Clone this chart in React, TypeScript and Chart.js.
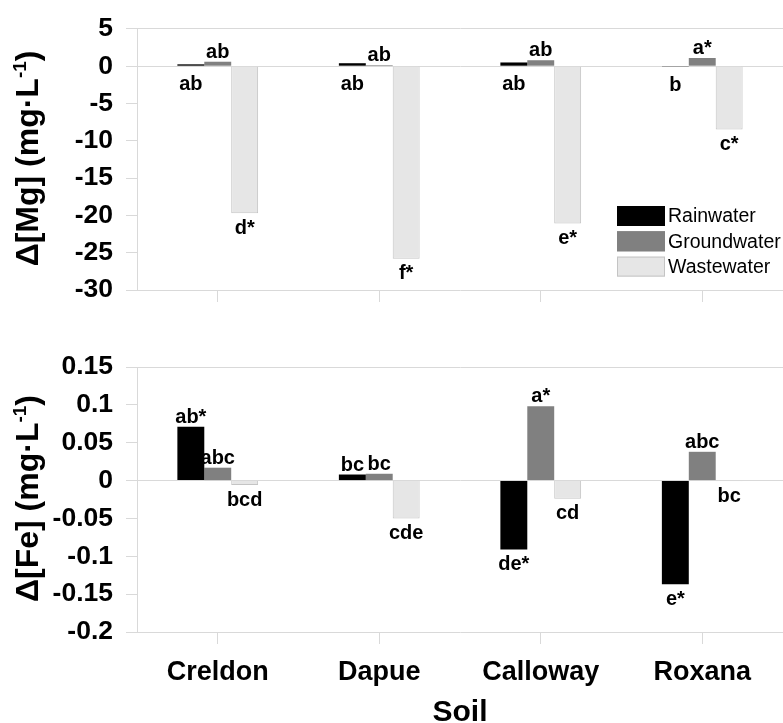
import React, { useEffect, useRef } from 'react';
import { Chart, registerables } from 'chart.js';

Chart.register(...registerables);

const FONT = '"Liberation Sans", Arial, Helvetica, sans-serif';
const GRID = '#d9d9d9';

const soils = ['Creldon', 'Dapue', 'Calloway', 'Roxana'];
const seriesNames = ['Rainwater', 'Groundwater', 'Wastewater'];
const seriesColors = ['#000000', '#808080', '#e6e6e6'];
const seriesBorders = ['#000000', '#808080', '#c4c4c4'];

// Δ[Mg] (mg·L-1)
const mgRain = [0.25, 0.4, 0.5, -0.1];
const mgGround = [0.6, 0.15, 0.8, 1.1];
const mgWaste = [-19.7, -25.8, -21.1, -8.5];
const mgRainLetters = ['ab', 'ab', 'ab', 'b'];
const mgGroundLetters = ['ab', 'ab', 'ab', 'a*'];
const mgWasteLetters = ['d*', 'f*', 'e*', 'c*'];
const mgTicks = [-30, -25, -20, -15, -10, -5, 0, 5];
const mgTickLabels = ['-30', '-25', '-20', '-15', '-10', '-5', '0', '5'];

// Δ[Fe] (mg·L-1)
const feRain = [0.071, 0.008, -0.091, -0.137];
const feGround = [0.017, 0.009, 0.098, 0.038];
const feWaste = [-0.006, -0.05, -0.024, -0.001];
const feRainLetters = ['ab*', 'bc', 'de*', 'e*'];
const feGroundLetters = ['abc', 'bc', 'a*', 'abc'];
const feWasteLetters = ['bcd', 'cde', 'cd', 'bc'];
const feTicks = [-0.2, -0.15, -0.1, -0.05, 0, 0.05, 0.1, 0.15];
const feTickLabels = ['-0.2', '-0.15', '-0.1', '-0.05', '0', '0.05', '0.1', '0.15'];

const letterPlugin = {
  id: 'letters',
  afterDatasetsDraw(chart: any) {
    const ctx = chart.ctx;
    ctx.save();
    ctx.font = `bold 20px ${FONT}`;
    ctx.fillStyle = '#000';
    ctx.textAlign = 'center';
    ctx.textBaseline = 'alphabetic';
    chart.data.datasets.forEach((ds: any, di: number) => {
      const meta = chart.getDatasetMeta(di);
      meta.data.forEach((el: any, i: number) => {
        const text = ds.letters[i];
        const v = ds.data[i];
        const top = Math.min(el.y, el.base);
        const bottom = Math.max(el.y, el.base);
        const below = ds.lettersBelow || v < 0;
        const y = below ? bottom + (ds.lettersGap ?? 6) + 14.5 : top - 4;
        ctx.fillText(text, el.x, y);
      });
    });
    ctx.restore();
  },
};

const yTitlePlugin = {
  id: 'yTitle',
  afterDraw(chart: any, _args: any, opts: any) {
    const ctx = chart.ctx;
    const area = chart.chartArea;
    const size = 32;
    const supSize = 19;
    ctx.save();
    ctx.translate(opts.x, (area.top + area.bottom) / 2 + (opts.dy || 0));
    ctx.rotate(-Math.PI / 2);
    ctx.fillStyle = '#000';
    ctx.textBaseline = 'alphabetic';
    ctx.textAlign = 'left';
    ctx.font = `bold ${size}px ${FONT}`;
    const w1 = ctx.measureText(opts.main).width;
    const w3 = ctx.measureText(opts.tail).width;
    ctx.font = `bold ${supSize}px ${FONT}`;
    const w2 = ctx.measureText(opts.sup).width;
    let x = -(w1 + w2 + w3) / 2;
    ctx.font = `bold ${size}px ${FONT}`;
    ctx.fillText(opts.main, x, 0);
    x += w1;
    ctx.font = `bold ${supSize}px ${FONT}`;
    ctx.fillText(opts.sup, x, -12);
    x += w2;
    ctx.font = `bold ${size}px ${FONT}`;
    ctx.fillText(opts.tail, x, 0);
    ctx.restore();
  },
};

const legendPlugin = {
  id: 'boxLegend',
  afterDraw(chart: any, _args: any, opts: any) {
    if (!opts || !opts.show) return;
    const ctx = chart.ctx;
    ctx.save();
    ctx.font = `19.5px ${FONT}`;
    ctx.textBaseline = 'middle';
    ctx.textAlign = 'left';
    seriesNames.forEach((name, i) => {
      const bx = 617;
      const by = 206 + i * 25.3;
      ctx.fillStyle = seriesColors[i];
      ctx.fillRect(bx, by, 48, 20);
      ctx.strokeStyle = seriesBorders[i];
      ctx.lineWidth = 1;
      ctx.strokeRect(bx + 0.5, by + 0.5, 47, 19);
      ctx.fillStyle = '#000';
      ctx.fillText(name, 668, by + 11);
    });
    ctx.restore();
  },
};

function makeConfig(opts: {
  rain: number[]; ground: number[]; waste: number[];
  rainL: string[]; groundL: string[]; wasteL: string[];
  rainBelow: boolean; rainGap: number;
  min: number; max: number; ticks: number[]; tickLabels: string[];
  top: number; xHeight: number; showX: boolean; legend: boolean;
  titleMain: string;
}) {
  const series = [opts.rain, opts.ground, opts.waste];
  const letters = [opts.rainL, opts.groundL, opts.wasteL];
  return {
    type: 'bar' as const,
    data: {
      labels: soils,
      datasets: series.map((d, i) => ({
        label: seriesNames[i],
        data: d,
        letters: letters[i],
        lettersBelow: i === 0 ? opts.rainBelow : false,
        lettersGap: i === 0 && opts.rainBelow ? opts.rainGap : 6,
        backgroundColor: seriesColors[i],
        borderColor: seriesBorders[i],
        borderWidth: i === 2 ? 1 : 0,
        categoryPercentage: 0.5,
        barPercentage: 1.0,
      })),
    },
    options: {
      animation: false,
      responsive: false,
      maintainAspectRatio: false,
      layout: { padding: { top: opts.top, left: 0, right: 0, bottom: 0 } },
      plugins: {
        legend: { display: false },
        tooltip: { enabled: false },
        yTitle: { main: opts.titleMain, sup: '-1', tail: ')', x: 38, dy: -1 },
        boxLegend: { show: opts.legend },
      },
      scales: {
        x: {
          offset: true,
          afterFit: (s: any) => { s.height = opts.xHeight; },
          grid: { offset: false, drawOnChartArea: false, drawTicks: true, tickLength: 12, tickColor: GRID },
          border: { display: true, color: GRID },
          ticks: {
            display: opts.showX,
            color: '#000',
            font: { family: FONT, size: 27, weight: 'bold' },
            padding: 12,
            maxRotation: 0,
            autoSkip: false,
          },
          title: {
            display: opts.showX,
            text: 'Soil',
            color: '#000',
            font: { family: FONT, size: 30, weight: 'bold', lineHeight: 1 },
            padding: { top: 0, bottom: -5 },
          },
        },
        y: {
          min: opts.min,
          max: opts.max,
          afterFit: (s: any) => { s.width = 137; },
          afterBuildTicks: (s: any) => { s.ticks = opts.ticks.map((v) => ({ value: v })); },
          ticks: {
            autoSkip: false,
            color: '#000',
            font: { family: FONT, size: 26.5, weight: 'bold' },
            padding: 13,
            callback: (_v: any, i: number) => opts.tickLabels[i],
          },
          grid: {
            color: (c: any) => {
              const v = c.tick ? c.tick.value : NaN;
              return Math.abs(v) < 1e-9 || Math.abs(v - opts.max) < 1e-9 ? GRID : 'rgba(0,0,0,0)';
            },
            tickColor: GRID,
            tickLength: 11,
            lineWidth: 1,
          },
          border: { display: true, color: GRID },
        },
      },
    },
    plugins: [letterPlugin, yTitlePlugin, legendPlugin],
  };
}

export default function App() {
  const topRef = useRef<HTMLCanvasElement | null>(null);
  const botRef = useRef<HTMLCanvasElement | null>(null);

  useEffect(() => {
    const top = new Chart(topRef.current as HTMLCanvasElement, makeConfig({
      rain: mgRain, ground: mgGround, waste: mgWaste,
      rainL: mgRainLetters, groundL: mgGroundLetters, wasteL: mgWasteLetters,
      rainBelow: true, rainGap: 10,
      min: -30, max: 5, ticks: mgTicks, tickLabels: mgTickLabels,
      top: 25, xHeight: 30, showX: false, legend: true,
      titleMain: 'Δ[Mg] (mg·L',
    }) as any);
    const bot = new Chart(botRef.current as HTMLCanvasElement, makeConfig({
      rain: feRain, ground: feGround, waste: feWaste,
      rainL: feRainLetters, groundL: feGroundLetters, wasteL: feWasteLetters,
      rainBelow: false, rainGap: 6,
      min: -0.2, max: 0.15, ticks: feTicks, tickLabels: feTickLabels,
      top: 47, xHeight: 91, showX: true, legend: false,
      titleMain: 'Δ[Fe] (mg·L',
    }) as any);
    return () => { top.destroy(); bot.destroy(); };
  }, []);

  return (
    <div style={{ position: 'absolute', left: 0, top: 0, width: 783, height: 723, background: '#fff' }}>
      <canvas ref={topRef} width={783} height={320} style={{ display: 'block', width: 783, height: 320 }} />
      <canvas ref={botRef} width={783} height={403} style={{ display: 'block', width: 783, height: 403 }} />
    </div>
  );
}
